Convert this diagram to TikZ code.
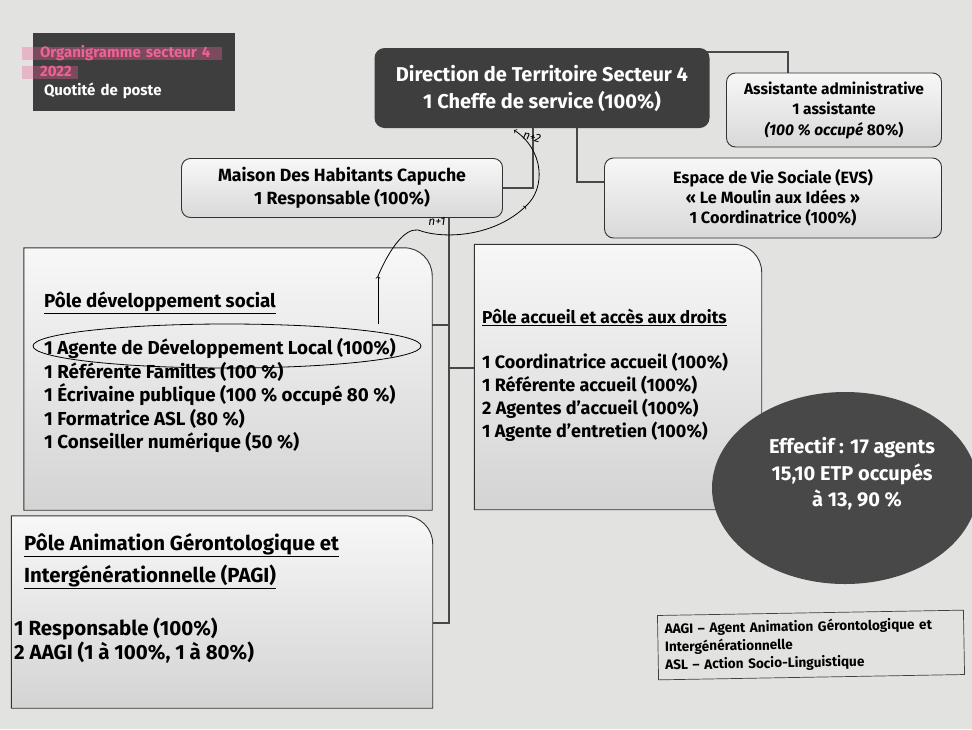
\documentclass[tikz,border=0pt]{standalone}
\usepackage{fontspec}
\setmainfont{Fira Sans}
\usetikzlibrary{shapes.geometric,calc}
\pgfdeclarelayer{bg}
\pgfsetlayers{bg,main}
\definecolor{papier}{RGB}{226,226,224}
\definecolor{fonce}{RGB}{62,62,62}
\definecolor{rose}{RGB}{238,98,152}
\definecolor{trait}{RGB}{72,72,72}
\newcommand\taille[2]{\fontsize{#1}{#2}\selectfont\bfseries}
\tikzset{
    every node/.style={inner sep=0pt},
    boite/.style={rectangle, rounded corners=9pt, draw=gray!40!black, line width=.9pt,
        top color=gray!6, bottom color=gray!30, align=center},
    sombre/.style={rectangle, rounded corners=10pt, fill=fonce, text=white, align=center},
    pole/.style={rectangle},
    contour/.style={draw=gray!40!black, line width=.9pt, top color=gray!6, bottom color=gray!34},
    lien/.style={draw=trait, line width=2.6pt},
    stylo/.style={draw=black, line width=.8pt},
    marqueur/.style={rose, opacity=.35, line width=13pt}
}

\begin{document}
\begin{tikzpicture}[x=1pt, y=-1pt]
        \begin{pgfonlayer}{bg}
                \fill[papier] (0,0) rectangle (972,729);
        \end{pgfonlayer}
        \useasboundingbox (0,0) rectangle (972,729);

        \node (titre) [rectangle, fill=fonce, minimum width=202pt, minimum height=78pt,
                text width=188pt, inner xsep=7pt, align=left, font=\taille{15}{19}]
                at (134,72) {\textcolor{rose}{Organigramme secteur 4}\\\textcolor{rose}{2022}\\\textcolor{white}{\hspace*{4pt}Quotité de poste}};
        \draw[marqueur] (22,53) -- (222,53);
        \draw[marqueur] (22,72) -- (78,72);
        \node (dir) [sombre, minimum width=335pt, minimum height=80pt, font=\taille{20}{27}]
                at (542,88) {Direction de Territoire Secteur 4\\1 Cheffe de service (100\%)};
        \node (asst) [boite, minimum width=215pt, minimum height=74pt, font=\taille{15.5}{20.5}]
                at (834,110) {Assistante administrative\\1 assistante\\\textit{(100~\% occupé} 80\%)};
        \node (mdh) [boite, minimum width=321pt, minimum height=59pt, font=\taille{17.7}{23}]
                at (342,188) {Maison Des Habitants Capuche\\1 Responsable (100\%)};
        \node (evs) [boite, minimum width=337pt, minimum height=80pt, font=\taille{16.3}{20}]
                at (773,198) {Espace de Vie Sociale (EVS)\\«~Le Moulin aux Idées~»\\1 Coordinatrice (100\%)};

        \node (pds) [pole, minimum width=408pt, minimum height=262pt] at (228,379) {};
        \node (paad) [pole, minimum width=287pt, minimum height=265pt] at (618,377) {};
        \node (pagi) [pole, minimum width=421pt, minimum height=192pt] at (222,612) {};
        \foreach \p in {pds,paad,pagi}
                \draw[contour] (\p.south west) -- (\p.north west) [rounded corners=28pt] -- (\p.north east) [sharp corners] -- (\p.south east) -- cycle;

        \node (pdst) [anchor=west, font=\taille{18.8}{22}] at (44,303) {\underline{Pôle développement social}};
        \node (pdsl) [anchor=west, align=left, font=\taille{18.8}{23.5}] at (44,396)
                {1 Agente de Développement Local (100\%)\\1 Référente Familles (100~\%)\\1 Écrivaine publique (100~\% occupé 80~\%)\\1 Formatrice ASL (80~\%)\\1 Conseiller numérique (50~\%)};
        \node (paadt) [anchor=west, font=\taille{17.3}{20}] at (482,317) {\underline{Pôle accueil et accès aux droits}};
        \node (paadl) [anchor=west, align=left, font=\taille{18}{23}] at (482,397)
                {1 Coordinatrice accueil (100\%)\\1 Référente accueil (100\%)\\2 Agentes d’accueil (100\%)\\1 Agente d’entretien (100\%)};
        \node (pagit) [anchor=west, align=left, font=\taille{20.4}{32}] at (24,561)
                {\underline{Pôle Animation Gérontologique et}\\\underline{Intergénérationnelle (PAGI)}};
        \node (pagil) [anchor=west, align=left, font=\taille{20.5}{24}] at (14,640)
                {1 Responsable (100\%)\\2 AAGI (1 à 100\%, 1 à 80\%)};

        \node (eff) [ellipse, fill=fonce!95!white, minimum width=266pt, minimum height=192pt] at (845,488) {};
        \node (efft) [text=white, align=center, font=\taille{20}{26.5}] at (852,474)
                {Effectif~: 17 agents\\15,10 ETP occupés\\\hspace*{10pt}à 13, 90~\%};

        \node (leg) [rectangle, draw=black!75, line width=.7pt, rotate=1, text width=292pt,
                inner xsep=7pt, inner ysep=7pt, align=left, font=\taille{13.6}{18}] at (811,645)
                {AAGI – Agent Animation Gérontologique et\\Intergénérationnelle\\ASL – Action Socio-Linguistique};

        \coordinate (t0) at (449,217);
        \coordinate (t1) at (449,325);
        \coordinate (t2) at (449,368);
        \coordinate (t3) at (449,623);
        \begin{pgfonlayer}{bg}
                \draw[lien] ($(dir.south)+(-9,0)$) |- (mdh.east);
                \draw[lien] ($(dir.south)+(35,0)$) |- ($(evs.west)+(0,-16)$);
                \draw[lien] ($(dir.north east)+(-12,4)$) -| ($(asst.north)+(-46,0)$);
                \draw[lien] (t0) -- (t3) -- (t3 -| pagi.east);
                \draw[lien] (t1) -- (t1 -| pds.east);
                \draw[lien] (t2) -- (t2 -| paad.west);
        \end{pgfonlayer}

        % annotations au stylo
        \node (entoure) [ellipse, stylo, minimum width=388pt, minimum height=44pt] at (227,346) {};
        \coordinate (m0) at (378,324);
        \coordinate (m1) at (378,276);
        \coordinate (m2) at (526,206);
        \coordinate (m3) at (514,130);
        \draw[stylo, ->] (m0) -- (m1);
        \draw[stylo, ->] (m1) .. controls (390,248) and (405,228) .. (418,230) .. controls (445,240) and (495,236) .. (m2);
        \draw[stylo, ->] (m2) .. controls (546,188) and (544,150) .. (m3);
        \node (n1) [font=\fontsize{12}{12}\selectfont\itshape] at (437,221) {n+1};
        \node (n2) [font=\fontsize{12}{12}\selectfont\itshape, rotate=-15] at (532,137) {n+2};
\end{tikzpicture}
\end{document}
